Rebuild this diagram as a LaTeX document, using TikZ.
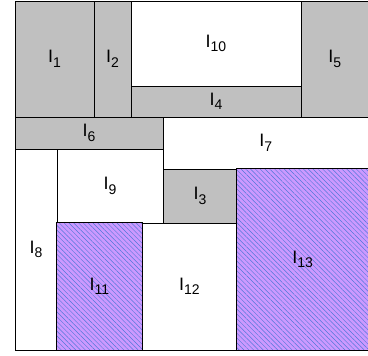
\documentclass[tikz,border=0pt]{standalone}
\usepackage{fontspec}
\setmainfont{Liberation Sans}
\usetikzlibrary{patterns.meta}
\definecolor{cellgray}{HTML}{C0C0C0}
\definecolor{hatchfill}{HTML}{CC99FF}
\definecolor{hatchline}{HTML}{5078D8}
\newcommand\lab[1]{I\raisebox{-4.5pt}{\fontsize{14}{14}\selectfont #1}}
\tikzset{
  cell/.style={draw=black, line width=0.9pt, inner sep=0pt, anchor=center,
    font=\fontsize{18}{18}\selectfont},
  grey/.style={cell, fill=cellgray},
  plain/.style={cell, fill=white},
  hatched/.style={cell, draw=none,
    preaction={fill=hatchfill},
    preaction={pattern={Lines[angle=-45,distance=3.4pt,line width=0.45pt]},
      pattern color=hatchline}},
  border/.style={draw=black, line width=0.9pt},
}
\begin{document}
\begin{tikzpicture}[x=1pt,y=-1pt]
\useasboundingbox (0,0) rectangle (368,356);
\fill[white] (0,0) rectangle (368,356);
\node[grey, minimum width=79pt, minimum height=116pt] (I1) at (54.5,59) {\lab{1}};
\node[grey, minimum width=37pt, minimum height=116pt] (I2) at (112.5,59) {\lab{2}};
\node[plain, minimum width=170pt, minimum height=85pt] (I10) at (216,43.5) {\lab{10}};
\node[grey, minimum width=170pt, minimum height=31pt] (I4) at (216,101.5) {\lab{4}};
\node[grey, minimum width=67.5pt, minimum height=116pt] (I5) at (334.75,59) {\lab{5}};
\node[grey, minimum width=148pt, minimum height=32pt] (I6) at (89,133) {\lab{6}};
\node[plain, minimum width=205.5pt, minimum height=52pt] (I7) at (265.75,143) {\lab{7}};
\node[plain, minimum width=42pt, minimum height=201pt] (I8) at (36,249.5) {\lab{8}};
\node[plain, minimum width=106pt, minimum height=74pt] (I9) at (110,186) {\lab{9}};
\node[grey, minimum width=74pt, minimum height=54pt] (I3) at (200,196) {\lab{3}};
\node[hatched, minimum width=85pt, minimum height=127pt] (I11) at (99.5,286.5) {\lab{11}};
\node[plain, minimum width=95pt, minimum height=127pt] (I12) at (189.5,286.5) {\lab{12}};
\node[hatched, minimum width=131.5pt, minimum height=181pt] (I13) at (302.75,259.5) {\lab{13}};
\foreach \n in {I11,I13}
  \draw[border] (\n.north west) rectangle (\n.south east);
\end{tikzpicture}
\end{document}
